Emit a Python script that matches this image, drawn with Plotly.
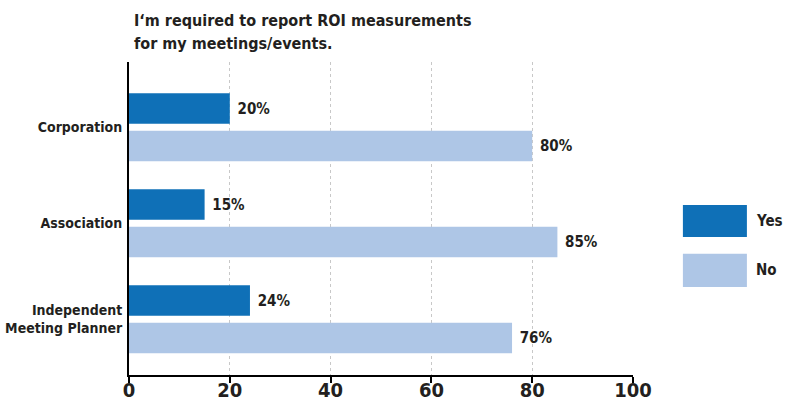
import plotly.graph_objects as go

# data
categories = ["Corporation", "Association", "Independent<br>Meeting Planner"]
yes_values = [20, 15, 24]
no_values = [80, 85, 76]
x_ticks = [0, 20, 40, 60, 80, 100]
title_lines = ["I‘m required to report ROI measurements", "for my meetings/events."]

FONT = "DejaVu Sans Condensed, Liberation Sans Narrow, Arial Narrow, sans-serif"
TEXT_COLOR = "#231f20"
YES_COLOR = "#0f70b7"
NO_COLOR = "#aec6e6"


def bold_font(size):
    return dict(size=size, color=TEXT_COLOR, family=FONT, weight='bold')


fig = go.Figure()

fig.add_trace(go.Bar(y=categories,
                     x=yes_values,
                     orientation='h',
                     name='Yes',
                     marker=dict(color=YES_COLOR, line=dict(width=0)),
                     texttemplate='\u00a0%{x}%',
                     textposition='outside',
                     textfont=bold_font(15)))

fig.add_trace(go.Bar(y=categories,
                     x=no_values,
                     orientation='h',
                     name='No',
                     marker=dict(color=NO_COLOR, line=dict(width=0)),
                     texttemplate='\u00a0%{x}%',
                     textposition='outside',
                     textfont=bold_font(15)))

# legend drawn by hand (large swatches)
legend_items = [("Yes", YES_COLOR, 0.543, 0.441), ("No", NO_COLOR, 0.387, 0.281)]
shapes = []
annotations = []
for label, color, y1, y0 in legend_items:
    shapes.append(dict(type='rect', xref='paper', yref='paper',
                       x0=1.099, x1=1.226, y0=y0, y1=y1,
                       fillcolor=color, line=dict(width=0)))
    annotations.append(dict(text=label, xref='paper', yref='paper',
                            x=1.24, y=(y0 + y1) / 2, xanchor='left', yanchor='middle',
                            showarrow=False, font=bold_font(15)))

# title, one line per annotation so the line spacing matches
for i, line in enumerate(title_lines):
    annotations.append(dict(text=line, xref='paper', yref='paper',
                            x=0.006, y=(375 - 21 - 23 * i) / 313,
                            xanchor='left', yanchor='middle',
                            showarrow=False, font=bold_font(16)))

fig.update_layout(width=804,
                  height=401,
                  margin=dict(l=129, r=171, t=62, b=26),
                  paper_bgcolor='white',
                  plot_bgcolor='white',
                  barmode='group',
                  bargap=0.22,
                  bargroupgap=0.187,
                  showlegend=False,
                  shapes=shapes,
                  annotations=annotations,
                  font=dict(family=FONT, color=TEXT_COLOR))

fig.update_xaxes(range=[0, 100],
                 tickvals=x_ticks,
                 showgrid=True,
                 gridcolor='#c8c8c8',
                 griddash='dot',
                 gridwidth=1,
                 zeroline=False,
                 showline=True,
                 linecolor='black',
                 linewidth=2,
                 ticks='outside',
                 ticklen=6,
                 tickwidth=2,
                 tickcolor='black',
                 ticklabelstandoff=-10,
                 tickfont=bold_font(20),
                 automargin=False,
                 fixedrange=True)

fig.update_yaxes(range=[2.58, -0.68],
                 showgrid=False,
                 zeroline=False,
                 showline=True,
                 linecolor='black',
                 linewidth=2,
                 ticks='',
                 ticklabelstandoff=2,
                 tickfont=bold_font(14),
                 automargin=False,
                 fixedrange=True)

# drop the browser's default page margin so the figure sits at the window's corner
fig.write_html("out.html", config={'displayModeBar': False},
               post_script="document.body.style.margin='0';")
